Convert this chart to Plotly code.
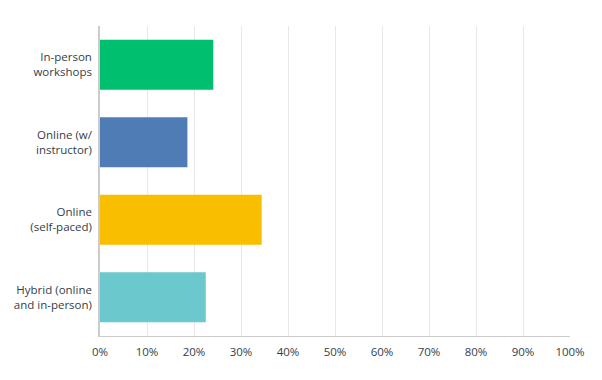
import plotly.graph_objects as go

categories = ["In-person<br>workshops", "Online (w/<br>instructor)", "Online<br>(self-paced)", "Hybrid (online<br>and in-person)"]
values = [24.1, 18.6, 34.4, 22.5]
colors = ["#00BF6F", "#507CB6", "#F9BE00", "#6BC8CD"]
tick_vals = [0, 10, 20, 30, 40, 50, 60, 70, 80, 90, 100]
tick_text = ["0%", "10%", "20%", "30%", "40%", "50%", "60%", "70%", "80%", "90%", "100%"]

fig = go.Figure(go.Bar(
    x=values, y=categories, orientation="h",
    marker=dict(color=colors, line=dict(width=0)),
    hoverinfo="x+y",
))

fig.update_layout(
    width=602, height=380,
    margin=dict(l=92, r=40, t=18, b=52),
    paper_bgcolor="white", plot_bgcolor="white",
    bargap=0.357,
    showlegend=False,
    font=dict(family="Open Sans, Roboto, sans-serif", size=11.5, color="#333e48"),
)
fig.update_xaxes(
    range=[0, 100], tickvals=tick_vals, ticktext=tick_text,
    showgrid=True, gridcolor="#e8e8e8", gridwidth=1,
    showline=True, linecolor="#cccccc", linewidth=1,
    zeroline=False, ticks="", ticklabelstandoff=5,
    tickfont=dict(size=11.5, color="#333e48"),
)
fig.update_yaxes(
    autorange="reversed", automargin=False,
    showline=True, linecolor="#cccccc", linewidth=1.5,
    showgrid=False, ticks="", ticklabelstandoff=4,
    tickfont=dict(size=11.5, color="#333e48"),
)

fig.write_html("out.html")
